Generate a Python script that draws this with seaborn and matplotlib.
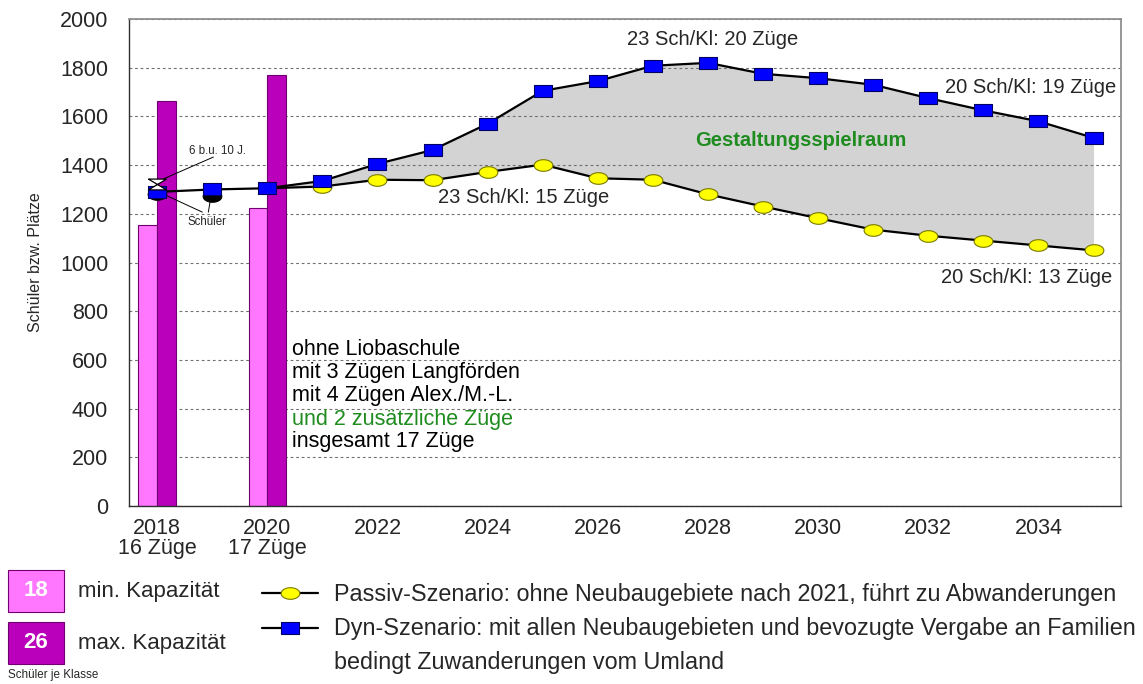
import numpy as np
import pandas as pd
import seaborn as sns
from matplotlib import pyplot as plt
from matplotlib.lines import Line2D
from matplotlib.patches import Rectangle
from matplotlib.ticker import MultipleLocator

# Data
years = list(range(2018, 2036))
dyn = [1290, 1300, 1305, 1335, 1405, 1462, 1570, 1705, 1745, 1808,
       1820, 1775, 1757, 1730, 1675, 1625, 1580, 1512]
passiv_years = list(range(2020, 2036))
passiv = [1305, 1312, 1340, 1338, 1372, 1402, 1346, 1340, 1280,
          1230, 1182, 1135, 1110, 1090, 1070, 1050]
schueler_years = [2018, 2019]
schueler = [1283, 1272]
kids_year = [2018]
kids = [1322]
bar_years = [2018, 2020]
min_cap = [1155, 1225]
max_cap = [1665, 1770]
xtick_years = list(range(2018, 2036, 2))
xtick_labels = ["2018\n16 Züge", "2020\n17 Züge", "2022", "2024", "2026",
                "2028", "2030", "2032", "2034"]
info_lines = ["ohne Liobaschule", "mit 3 Zügen Langförden",
              "mit 4 Zügen Alex./M.-L.", "und 2 zusätzliche Züge",
              "insgesamt 17 Züge"]

sns.set_style("white")
plt.rcParams['font.family'] = ['Liberation Sans', 'DejaVu Sans']

GREEN = '#1E8C1E'
PINK = '#FF77FF'
PURPLE = '#BB00BB'

# marker shapes
rect_m = [(-1, -0.68), (1, -0.68), (1, 0.68), (-1, 0.68), (-1, -0.68)]
t = np.linspace(0, 2 * np.pi, 41)
ell_m = list(zip(np.cos(t), 0.62 * np.sin(t)))
hour_m = [(-1, 0.6), (1, 0.6), (-1, -0.6), (1, -0.6), (-1, 0.6)]

fig = plt.figure(figsize=(11.43, 6.84), dpi=100)
ax = fig.add_axes([0.1129, 0.2602, 0.8679, 0.712])

# capacity bars
bars = pd.DataFrame({
    "year": bar_years * 2,
    "value": min_cap + max_cap,
    "kind": ["min"] * len(bar_years) + ["max"] * len(bar_years),
})
sns.barplot(data=bars, x="year", y="value", hue="kind", native_scale=True,
            palette={"min": PINK, "max": PURPLE}, width=0.34, dodge=True,
            errorbar=None, legend=False, edgecolor='#700070', linewidth=0.8,
            saturation=1, ax=ax)

# gray range between the scenarios
dyn_s = pd.Series(dyn, index=years)
ax.fill_between(passiv_years, passiv, dyn_s.loc[passiv_years].values,
                color='#D3D3D3', lw=0, zorder=0.2)

# pupils (black) under the squares
sns.lineplot(x=schueler_years, y=schueler, color='black', lw=0,
             marker=ell_m, markersize=13.5, markerfacecolor='black',
             markeredgecolor='black', ax=ax, zorder=3)

sns.lineplot(x=passiv_years, y=passiv, color='black', lw=1.6,
             marker=ell_m, markersize=13.5, markerfacecolor='#FFFF00',
             markeredgecolor='#7A7A00', markeredgewidth=0.8,
             markevery=list(range(1, len(passiv))), ax=ax, zorder=4)
sns.lineplot(x=years, y=dyn, color='black', lw=1.6,
             marker=rect_m, markersize=13.5, markerfacecolor='#0000FF',
             markeredgecolor='#000060', markeredgewidth=0.8, ax=ax, zorder=5)
sns.lineplot(x=kids_year, y=kids, color='black', lw=0,
             marker=hour_m, markersize=13, markerfacecolor='white',
             markeredgecolor='black', markeredgewidth=0.9, ax=ax, zorder=6)

# axes setup
ax.set_xlim(2017.49, 2035.5)
ax.set_ylim(0, 2000)
ax.set_xticks(xtick_years)
ax.set_xticklabels(xtick_labels, fontsize=15.5)
for lab in ax.get_xticklabels():
    lab.set_linespacing(0.95)
ax.xaxis.set_minor_locator(MultipleLocator(1))
ax.set_yticks(range(0, 2001, 200))
ax.yaxis.set_minor_locator(MultipleLocator(100))
ax.tick_params(axis='y', which='major', labelsize=15.5, direction='inout',
               length=16, width=1, color='#404040', pad=7)
ax.tick_params(axis='y', which='minor', direction='inout', length=7,
               width=1, color='#404040')
ax.tick_params(axis='x', which='both', direction='inout', length=11,
               width=1, color='#404040', pad=3)
ax.set_xlabel("")
ax.set_ylabel("Schüler bzw. Plätze", fontsize=11.5, labelpad=12)
ax.set_axisbelow(True)
ax.grid(axis='y', which='major', color='#707070', ls=(0, (2.5, 2.5)), lw=0.8)
ax.grid(axis='x', visible=False)
for side in ['left', 'bottom']:
    ax.spines[side].set_color('#303030')
    ax.spines[side].set_linewidth(1)
for side in ['top', 'right']:
    ax.spines[side].set_color('#909090')
    ax.spines[side].set_linewidth(1.3)
    ax.spines[side].set_visible(True)

# labels inside the chart
ax.text(2028.08, 1914, "23 Sch/Kl: 20 Züge", fontsize=14.5, ha='center', va='center')
ax.text(2033.86, 1717, "20 Sch/Kl: 19 Züge", fontsize=14.5, ha='center', va='center')
ax.text(2024.65, 1269, "23 Sch/Kl: 15 Züge", fontsize=14.5, ha='center', va='center')
ax.text(2033.78, 940, "20 Sch/Kl: 13 Züge", fontsize=14.5, ha='center', va='center')
ax.text(2029.68, 1503, "Gestaltungsspielraum", fontsize=14.5, fontweight='bold',
        color=GREEN, ha='center', va='center')

ax.text(2019.09, 1458, "6 b.u. 10 J.", fontsize=8.3, ha='center', va='center')
ax.plot([2018.11, 2019.02], [1343, 1433], color='black', lw=0.7, zorder=7)
ax.text(2018.91, 1166, "Schüler", fontsize=8.3, ha='center', va='center')
ax.plot([2018.15, 2018.82], [1277, 1207], color='black', lw=0.7, zorder=2.5)
ax.plot([2018.96, 2018.93], [1248, 1207], color='black', lw=0.7, zorder=2.5)

info_y = [642, 547, 453, 354, 263]
for line, yy in zip(info_lines, info_y):
    ax.text(2020.45, yy, line, fontsize=15.5, ha='left', va='center',
            color=GREEN if line.startswith("und") else 'black')

# bottom legend
W, H = 1143, 684


def fx(px):
    return px / W


def fy(py):
    return 1 - py / H


for (top, col, num, label) in [(570, PINK, "18", "min. Kapazität"),
                                (622, PURPLE, "26", "max. Kapazität")]:
    fig.add_artist(Rectangle((fx(8), fy(top + 42)), fx(56), 42 / H,
                             facecolor=col, edgecolor='#700070', lw=0.8,
                             transform=fig.transFigure))
    fig.text(fx(36), fy(top + 21), num, fontsize=16, fontweight='bold',
             color='white', ha='center', va='center')
    fig.text(fx(78), fy(top + 21), label, fontsize=16, ha='left', va='center')
fig.text(fx(8), fy(675), "Schüler je Klasse", fontsize=8.4, ha='left', va='center')

for py, mk, fc, ec in [(593, ell_m, '#FFFF00', '#7A7A00'),
                       (628, rect_m, '#0000FF', '#000060')]:
    fig.add_artist(Line2D([fx(262), fx(290), fx(318)], [fy(py)] * 3,
                          color='black', lw=1.6, marker=mk, markersize=13.5,
                          markerfacecolor=fc, markeredgecolor=ec,
                          markeredgewidth=0.8, markevery=[1],
                          transform=fig.transFigure))
fig.text(fx(334), fy(594), "Passiv-Szenario: ohne Neubaugebiete nach 2021, führt zu Abwanderungen",
         fontsize=16.8, ha='left', va='center')
fig.text(fx(334), fy(629), "Dyn-Szenario: mit allen Neubaugebieten und bevozugte Vergabe an Familien",
         fontsize=16.8, ha='left', va='center')
fig.text(fx(334), fy(662), "bedingt Zuwanderungen vom Umland",
         fontsize=16.8, ha='left', va='center')

fig.savefig("out.png", dpi=100)
